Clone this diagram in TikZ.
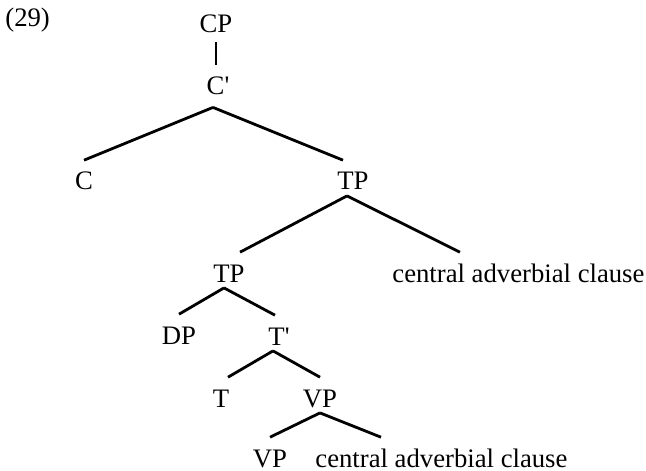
\documentclass[tikz,border=0pt]{standalone}
\usepackage{fontspec}
\setmainfont{Liberation Serif}
\tikzset{
  lbl/.style={inner sep=0pt, anchor=base, text height=14.7pt, text depth=2.75pt},
  branch/.style={line width=1.4pt},
}
\begin{document}
\begin{tikzpicture}[x=0.5pt, y=-0.5pt, font=\fontsize{13.35}{16}\selectfont]

\path [use as bounding box] (0,0) rectangle (646,470);

% EXAMPLE NUMBER
\node [inner sep=0pt, anchor=base west] (exnum) at (5,27) {(29)};

% NODES
\node [lbl, text depth=4.5pt] (cp) at (216,33) {CP};
\node [lbl, text depth=6pt] (cbar) at (218,95) {C\textquotesingle};
\node [lbl] (c) at (84,190) {C};
\node [lbl] (tptop) at (353,190) {TP};
\node [lbl, anchor=base west] (adv1) at (392,282) {central adverbial clause};
\node [lbl] (tp) at (229,282) {TP};
\node [lbl] (dp) at (179,344) {DP};
\node [lbl] (tbar) at (279,345) {T\textquotesingle};
\node [lbl] (t) at (221,407) {T};
\node [lbl] (vptop) at (320,407) {VP};
\node [lbl] (vp) at (270,467) {VP};
\node [lbl, anchor=base west] (adv2) at (315,467) {central adverbial clause};

% BRANCHES
\draw [branch] (cp.south) -- (cp.south |- cbar.north);
\draw [branch] ([xshift=-2.5pt]cbar.south) -- (c.north);
\draw [branch] ([xshift=-2.5pt]cbar.south) -- ([xshift=-5pt]tptop.north);
\draw [branch] ([xshift=-3pt]tptop.south) -- ([xshift=5.5pt]tp.north);
\draw [branch] ([xshift=-3pt]tptop.south) -- ([xshift=34pt]adv1.north west);
\draw [branch] ([xshift=-2.5pt]tp.south) -- (dp.north);
\draw [branch] ([xshift=-2.5pt]tp.south) -- ([xshift=-2pt]tbar.north);
\draw [branch] ([xshift=-3pt]tbar.south) -- ([xshift=3.5pt]t.north);
\draw [branch] ([xshift=-3pt]tbar.south) -- (vptop.north);
\draw [branch] (vptop.south) -- (vp.north);
\draw [branch] (vptop.south) -- ([xshift=33pt]adv2.north west);

\end{tikzpicture}
\end{document}
